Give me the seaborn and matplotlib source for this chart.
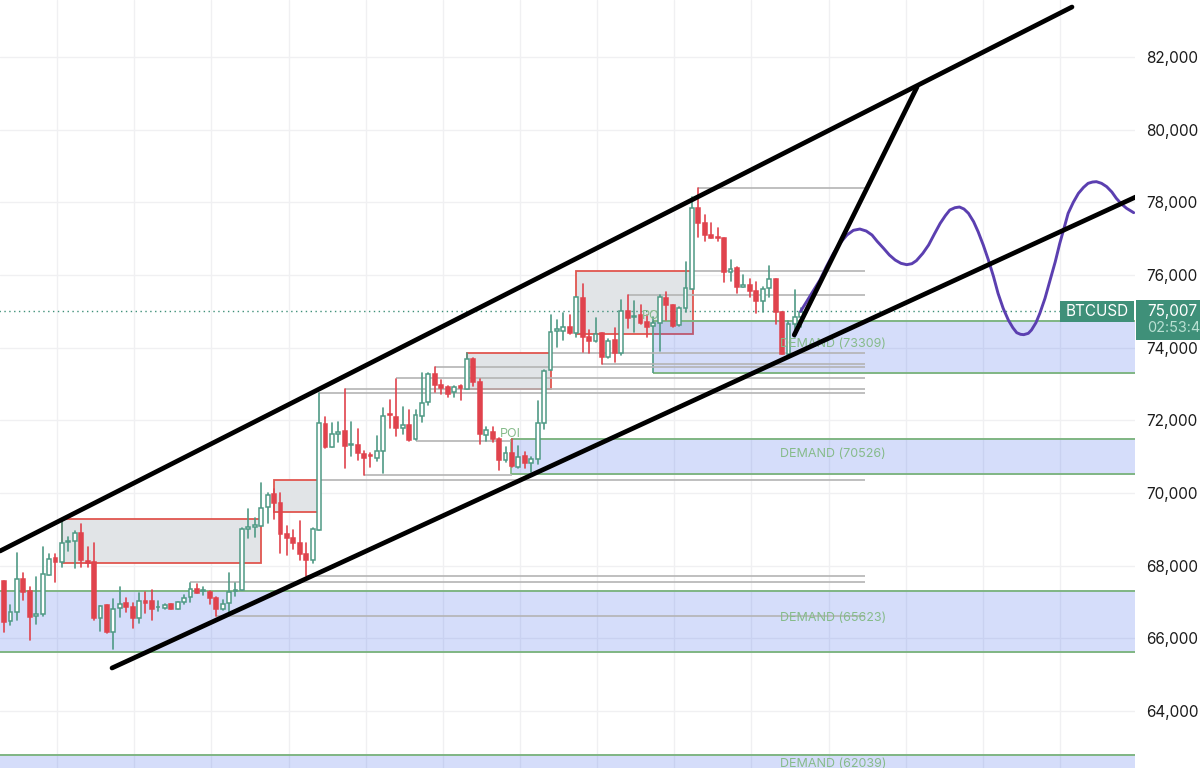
import numpy as np
import pandas as pd
import seaborn as sns
import matplotlib.pyplot as plt
from matplotlib.patches import Rectangle

# ===============================
# 1. Candles
# ===============================
opens = [67580,66470,66720,67630,67300,66610,66660,67750,68200,68090,68640,68690,68890,68130,68090,66570,66910,66180,66830,66960,
         66870,66570,67020,67020,66850,66840,66940,66810,66990,67130,67360,67300,67280,67110,66800,66960,67290,67330,69000,69070,
         69100,69620,69970,69730,68860,68760,68610,68320,68160,68980,71900,71270,71630,71700,71320,71320,71060,71040,70960,71160,
         72160,72090,71780,71870,71480,72130,72490,73270,72970,72910,72770,72940,72860,73700,73050,71600,71690,71490,70900,71110,
         70720,71010,70830,70930,71920,73380,74470,74470,74580,74390,75360,74280,74180,74390,73750,74200,73840,75020,74840,74900,
         74700,74600,74690,75360,75170,74620,75080,75600,77830,77440,77100,77040,77020,76070,76180,75680,75720,75550,75290,75650,
         75880,74990,73830,74650,74850]
highs = [67580,66920,68340,67790,67400,67700,68500,68320,68320,69280,68800,68940,69140,68520,68630,66900,66910,67080,67400,67100,
         66980,67240,67270,67330,67040,66950,66940,67010,67190,67510,67500,67420,67310,67150,67060,67810,67530,69030,69550,69320,
         70270,69990,70100,69990,69090,68980,69230,68610,69030,72760,72080,71930,71940,72850,71960,71750,71160,71110,71570,72340,
         72560,73150,72360,72280,72280,73310,73310,73480,73110,72950,72950,72970,73840,73710,73130,71810,71810,71500,71260,71480,
         71290,71140,71000,72530,73380,74900,74760,74940,74900,75380,75750,74480,74810,74390,74230,74530,75310,75450,75280,75170,
         74900,74850,75450,75540,75170,75130,76370,78150,78380,77650,77440,77300,77030,76410,76230,76000,75880,75800,75660,76260,
         75880,74990,74740,75590,75080]
lows = [66180,66370,66500,67060,65940,66390,66610,67750,67560,67970,68390,67930,67950,67970,66500,66210,66140,65700,66600,66720,
        66280,66410,66690,66500,66760,66800,66820,66800,66950,67010,67240,67190,66950,66610,66780,66690,67170,67320,68750,68800,
        69100,69170,69280,68340,68290,68450,68160,67720,68080,68980,71230,71270,71410,70700,71020,70910,70490,70720,70890,70540,
        71780,71580,71610,71440,71460,71940,72420,72790,72720,72650,72650,72560,72850,72940,71350,71440,71390,70630,70860,70720,
        70680,70700,70590,70800,71750,73380,74030,74210,74370,74300,73890,73860,74160,73540,73720,73610,73800,74530,74440,74650,
        74300,74600,73920,74760,74580,74600,74990,75600,77050,76940,77010,76930,75800,75820,75490,75660,75400,74940,74990,75400,
        74650,73820,73780,74300,74580]
closes = [66460,66720,67620,67280,66600,66660,67760,68190,68090,68630,68680,68910,68160,68080,66570,66900,66180,66820,66940,66860,
          66570,67020,66980,66810,66870,66930,66820,67000,67120,67350,67250,67320,67100,66800,66950,67270,67320,69000,69070,69120,
          69600,69940,69730,68860,68770,68610,68330,68160,69000,71920,71260,71610,71680,71300,71340,71090,70960,71010,71150,72120,
          72140,71800,71870,71460,72150,72470,73270,72970,72900,72730,72930,72880,73700,73050,71620,71720,71490,70910,71090,70740,
          71000,70820,70940,71920,73370,74420,74520,74560,74390,75380,74300,74180,74380,73750,74190,73840,75010,74810,74880,74690,
          74580,74690,75380,75170,74600,75080,75630,77830,77440,77100,77030,77010,76070,76170,75680,75720,75560,75290,75620,75880,
          74990,73830,74640,74830,74970]

y_ticks = [64000, 66000, 68000, 70000, 72000, 74000, 76000, 78000, 80000, 82000]
last_price = 75007

# ===============================
# 2. Zones and drawings
# ===============================
zone_tops = [67310, 71485, 74733, 62797]
zone_bottoms = [65632, 70526, 73309, 62039]
zone_starts = [-1, 78.9, 100.9, -1]
zone_labels = ["DEMAND (65623)", "DEMAND (70526)", "DEMAND (73309)", "DEMAND (62039)"]
zone_label_prices = [66570, 71080, 74105, 62545]

box_starts = [9.0, 42.0, 72.0, 89.0]
box_ends = [40.0, 49.0, 85.0, 107.2]
box_tops = [69284, 70357, 73852, 76109]
box_bottoms = [68073, 69476, 72861, 74375]

level_prices = [78393, 76109, 75448, 73852, 73550, 73475, 73155, 72850, 72760, 71440, 70490, 70357, 67720, 67550, 66610]
level_starts = [108, 107.2, 97, 85, 93, 67, 61, 53, 49, 64, 56, 49, 47, 29, 33]
level_ends = [133.9, 133.9, 133.9, 133.9, 133.9, 133.9, 133.9, 133.9, 133.9, 79, 79, 133.9, 133.9, 133.9, 133.9]

upper_x = [-0.62, 166.1]
upper_y = [68403, 83374]
lower_x = [16.8, 176.0]
lower_y = [65183, 78145]
leg_x = [122.9, 142.0]
leg_y = [74348, 81172]

path_x = [123.9, 126.9, 127.9, 129.0, 130.0, 131.1, 132.1, 133.1, 134.1, 135.0, 135.8, 136.8, 137.7, 138.6, 139.5, 140.4,
          141.2, 141.9, 142.9, 143.8, 144.7, 145.6, 146.4, 147.1, 147.9, 148.6, 149.3, 150.0, 150.8, 151.5, 152.3, 153.1,
          153.9, 154.6, 155.4, 156.2, 156.9, 157.5, 158.1, 158.6, 159.3, 159.8, 160.5, 161.1, 161.9, 162.7, 163.5, 164.2,
          164.9, 165.5, 166.3, 167.1, 167.9, 168.6, 169.3, 169.9, 170.7, 171.5, 172.3, 173.0, 173.8, 174.6, 175.7]
path_y = [75000, 75861, 76228, 76595, 76870, 77099, 77228, 77264, 77209, 77099, 76925, 76732, 76549, 76411, 76320, 76283,
          76310, 76393, 76595, 76824, 77127, 77420, 77631, 77787, 77851, 77870, 77815, 77696, 77466, 77191, 76824, 76411,
          75953, 75494, 75081, 74760, 74549, 74412, 74366, 74357, 74393, 74485, 74687, 74944, 75356, 75861, 76365, 76870,
          77310, 77696, 77998, 78246, 78411, 78521, 78558, 78567, 78521, 78429, 78283, 78108, 77952, 77833, 77714]

GREEN = "#4f9a85"
RED = "#e0434d"
TEAL = "#3f9079"
ZONE_LINE = "#7fb583"
ZONE_TEXT = "#86bb8a"

sns.set_style("whitegrid", {"grid.color": "#f0f0f2", "axes.edgecolor": "white"})
plt.rcParams["font.family"] = ["Inter", "DejaVu Sans"]

candles = pd.DataFrame({"idx": np.arange(len(opens)), "open": opens, "high": highs, "low": lows, "close": closes})
candles["up"] = candles["close"] >= candles["open"]
candles["body_low"] = candles[["open", "close"]].min(axis=1)
candles["body"] = (candles["close"] - candles["open"]).abs()
wicks = candles.melt(id_vars=["idx", "up"], value_vars=["high", "low"], value_name="price")
wicks = wicks.sort_values(["idx", "price"])

fig = plt.figure(figsize=(12, 7.68), dpi=100)
ax = fig.add_axes([0, 0, 1135 / 1200, 1])

# zones
for top, bottom, start in zip(zone_tops, zone_bottoms, zone_starts):
    ax.add_patch(Rectangle((start, bottom), 178 - start, top - bottom, facecolor="#3a62ec", alpha=0.21, linewidth=0, zorder=2.5))
    ax.hlines([top, bottom], start, 178, color=ZONE_LINE, linewidth=1.4, zorder=2.6)
ax.vlines(zone_starts[2], zone_bottoms[2], zone_tops[2], color=GREEN, linewidth=1.2, zorder=2.6)
ax.vlines(zone_starts[1], zone_bottoms[1], zone_tops[1], color=ZONE_LINE, linewidth=1.2, zorder=2.6)

# supply boxes
for start, end, top, bottom in zip(box_starts, box_ends, box_tops, box_bottoms):
    ax.add_patch(Rectangle((start, bottom), end - start, top - bottom, facecolor="#e1e4e7", edgecolor="#e0564f", linewidth=1.3, zorder=2))

# liquidity levels
ax.hlines(level_prices, level_starts, level_ends, color="#b4b4b4", linewidth=1.2, zorder=2.7)

# candles
for is_up, colour in [(True, GREEN), (False, RED)]:
    sns.lineplot(data=wicks[wicks["up"] == is_up], x="idx", y="price", units="idx", estimator=None,
                 color=colour, linewidth=1.2, legend=False, ax=ax, zorder=3)
    part = candles[candles["up"] == is_up]
    sns.barplot(data=part, x="idx", y="body", bottom=part["body_low"], native_scale=True, width=0.6, errorbar=None,
                color="white" if is_up else colour, saturation=1, edgecolor=colour, linewidth=1.1, ax=ax, zorder=3.2)

# drawn lines
sns.lineplot(x=path_x, y=path_y, color="#5b3fb0", linewidth=2.1, sort=False, estimator=None, ax=ax, zorder=4)
for line_x, line_y in [(upper_x, upper_y), (lower_x, lower_y), (leg_x, leg_y)]:
    sns.lineplot(x=line_x, y=line_y, color="black", linewidth=3.4, sort=False, estimator=None, ax=ax, zorder=5)

# labels inside the chart
for label, price in zip(zone_labels, zone_label_prices):
    ax.text(128.9, price, label, color=ZONE_TEXT, fontsize=9, ha="center", va="center", zorder=4.5)
ax.text(78.7, 71610, "POI", color=ZONE_TEXT, fontsize=9, ha="center", va="center", zorder=4.5)
ax.text(100.8, 74860, "POI", color=ZONE_TEXT, fontsize=9, ha="center", va="center", zorder=3.1)

# last price line
ax.hlines(last_price, -1, 164.2, color=TEAL, linewidth=1, linestyles=(0, (1, 2.5)), zorder=2.8)

ax.set_xlim(-0.622, 175.9)
ax.set_ylim(62431, 83567)
ax.set_xticks(np.arange(8.25, 176, 12))
ax.set_xticklabels([])
ax.yaxis.tick_right()
ax.set_yticks(y_ticks)
ax.set_yticklabels([f"{t:,}" for t in y_ticks])
ax.tick_params(axis="y", length=0, pad=8, labelsize=11, labelcolor="#1c1c1c")
ax.tick_params(axis="x", length=0)
ax.set_xlabel("")
ax.set_ylabel("")
ax.grid(True, linewidth=1)
ax.set_axisbelow(True)
sns.despine(ax=ax, left=True, bottom=True, right=True, top=True)

# price tags on top of the axis labels
fig.add_artist(Rectangle((1060 / 1200, 1 - 322 / 768), 74 / 1200, 21 / 768, transform=fig.transFigure, facecolor=TEAL, linewidth=0))
fig.add_artist(Rectangle((1136 / 1200, 1 - 340 / 768), 64 / 1200, 40 / 768, transform=fig.transFigure, facecolor=TEAL, linewidth=0))
fig.text(1097 / 1200, 1 - 312 / 768, "BTCUSD", color="white", fontsize=11, ha="center", va="center")
fig.text(1147 / 1200, 1 - 311 / 768, "75,007", color="white", fontsize=11, ha="left", va="center")
fig.text(1147 / 1200, 1 - 328 / 768, "02:53:4", color="#b9e0d3", fontsize=10.4, ha="left", va="center")

fig.savefig("out.png", dpi=100)
